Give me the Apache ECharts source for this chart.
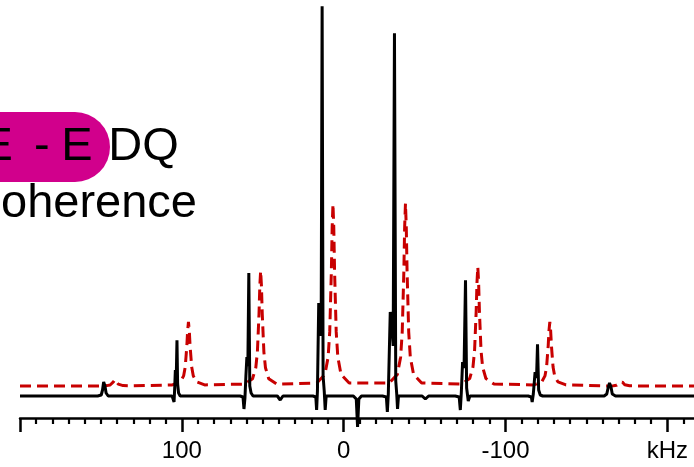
<!DOCTYPE html>
<html>
<head>
<meta charset="utf-8">
<script src="https://cdn.jsdelivr.net/npm/echarts@6/dist/echarts.min.js"></script>
<style>
  html, body { margin: 0; padding: 0; background: #fff; }
  #chart { width: 694px; height: 467px; }
</style>
</head>
<body>
<div id="chart"></div>
<script>
// Frequency axis (kHz), drawn high-to-low from left to right
const axisMin = -216.5;
const axisMax = 200;
const majorTicks = [200, 100, 0, -100, -200];
const minorTicks = [190, 180, 170, 160, 150, 140, 130, 120, 110,
  90, 80, 70, 60, 50, 40, 30, 20, 10,
  -10, -20, -30, -40, -50, -60, -70, -80, -90,
  -110, -120, -130, -140, -150, -160, -170, -180, -190, -210];
const labelValues = [100, 0, -100, -200];
const labelTexts = ['100', '0', '-100', 'kHz'];

// Measured spectrum (solid black): [frequency kHz, intensity]
const measuredTrace = [
  [200, 0],
  [152, 0], [149.8, 1], [149, 6], [148.3, 14], [147.5, 10], [146.8, 3], [145.5, 0],
  [106, 0], [105.2, -1], [104.8, -6], [104.4, 8], [104.0, 26], [103.4, 22], [103.0, 55.7], [102.6, 12], [102.0, 3], [101, 0],
  [64, 0], [62.2, -1], [61.6, -13], [61.0, -2], [60.4, 20], [59.8, 39], [59.2, 30], [58.6, 123], [58.0, 10], [57.2, 3], [56, 0],
  [41, 0], [39.2, -4], [37.5, 0],
  [19, 0], [17.2, -1], [16.7, -14], [16.2, 5], [15.4, 93], [14.6, 80], [13.9, 60], [13.3, 389.7], [12.7, 20], [12.0, 5], [11.4, -14], [10.8, 0], [9, 0],
  [-6, 0], [-7.8, -3], [-8.6, -31], [-9.4, -3], [-11, 0],
  [-24, 0], [-26.4, -1], [-27.0, -16], [-27.6, 2], [-28.8, 84], [-29.8, 70], [-30.6, 50], [-31.4, 362.7], [-32.2, 15], [-32.8, 2], [-33.3, -13], [-33.9, 0], [-36, 0],
  [-48.5, 0], [-50.5, -3], [-52.5, 0],
  [-69, 0], [-71.4, -1], [-72.1, -14], [-72.7, 3], [-73.5, 34], [-74.4, 28], [-75.3, 115.7], [-76.0, 8], [-77, -5], [-78, 0], [-80, 0],
  [-114, 0], [-116.0, -1], [-116.5, -6], [-117.2, 2], [-118.3, 24], [-119.2, 18], [-119.8, 51.7], [-120.5, 6], [-121.5, 1], [-123, 0],
  [-161, 0], [-162.6, 2], [-163.4, 8], [-164.3, 13], [-165.2, 9], [-166, 2], [-168, 0],
  [-216.5, 0]
];

// Simulated spectrum (dashed red), offset above the measured one: [frequency kHz, intensity]
const simulatedTrace = [
  [200, 10],
  [151.3, 10.1], [146.3, 10.4], [144.3, 11], [143.3, 11.9], [142.3, 14.1], [141.8, 15.7], [141.3, 16.5], [140.8, 15.7], [140.3, 14.1], [139.3, 11.9], [138.3, 11], [136.3, 10.4], [131.3, 10.1],
  [105.9, 11.1], [100.9, 14.1], [98.9, 20.1], [97.9, 29], [96.9, 50.2], [96.4, 65.7], [95.9, 74], [95.4, 65.7], [94.9, 50.2], [93.9, 29], [92.9, 20.1], [90.9, 14.1], [85.9, 11.1],
  [61.3, 11.9], [56.3, 17.3], [54.3, 28.2], [53.3, 44.2], [52.3, 82.2], [51.8, 110.2], [51.3, 125], [50.8, 110.2], [50.3, 82.2], [49.3, 44.2], [48.3, 28.2], [46.3, 17.3], [41.3, 11.9],
  [16.6, 13], [11.6, 21.5], [9.6, 38.8], [8.6, 64.1], [7.6, 124.3], [7.1, 168.5], [6.6, 192], [6.1, 168.5], [5.6, 124.3], [4.6, 64.1], [3.6, 38.8], [1.6, 21.5], [-3.4, 13],
  [-28.2, 13], [-33.2, 21.6], [-35.2, 38.8], [-36.2, 64.2], [-37.2, 124.6], [-37.7, 169], [-38.2, 192.5], [-38.7, 169], [-39.2, 124.6], [-40.2, 64.2], [-41.2, 38.8], [-43.2, 21.6], [-48.2, 13],
  [-72.9, 12], [-77.9, 17.5], [-79.9, 28.8], [-80.9, 45.3], [-81.9, 84.7], [-82.4, 113.6], [-82.9, 129], [-83.4, 113.6], [-83.9, 84.7], [-84.9, 45.3], [-85.9, 28.8], [-87.9, 17.5], [-92.9, 12],
  [-117.4, 11.1], [-122.4, 14.1], [-124.4, 20.1], [-125.4, 29], [-126.4, 50.2], [-126.9, 65.7], [-127.4, 74], [-127.9, 65.7], [-128.4, 50.2], [-129.4, 29], [-130.4, 20.1], [-132.4, 14.1], [-137.4, 11.1],
  [-161.7, 10.1], [-166.7, 10.3], [-168.7, 10.7], [-169.7, 11.3], [-170.7, 12.8], [-171.2, 13.9], [-171.7, 14.5], [-172.2, 13.9], [-172.7, 12.8], [-173.7, 11.3], [-174.7, 10.7], [-176.7, 10.3], [-181.7, 10.1],
  [-216.5, 10]
];

const FONT = '"Liberation Sans", Arial, Helvetica, sans-serif';

const chart = echarts.init(document.getElementById('chart'), null, { renderer: 'canvas' });

const baseXAxis = {
  type: 'value',
  inverse: true,
  min: axisMin,
  max: axisMax,
  position: 'bottom',
  splitLine: { show: false }
};

chart.setOption({
  animation: false,
  backgroundColor: '#ffffff',
  grid: { left: 20, right: 0, top: 0, bottom: 49, containLabel: false },
  xAxis: [
    Object.assign({}, baseXAxis, {
      axisLine: { show: true, onZero: false, lineStyle: { color: '#000', width: 2.5 } },
      axisTick: { show: true, inside: false, length: 14, customValues: majorTicks, lineStyle: { color: '#000', width: 2.5 } },
      axisLabel: {
        show: true,
        customValues: labelValues,
        margin: 21,
        color: '#000',
        fontSize: 24,
        fontFamily: FONT,
        formatter: function (v) {
          const i = labelValues.indexOf(v);
          return i >= 0 ? labelTexts[i] : '';
        }
      }
    }),
    Object.assign({}, baseXAxis, {
      axisLine: { show: false, onZero: false },
      axisTick: { show: true, inside: false, length: 6, customValues: minorTicks, lineStyle: { color: '#000', width: 2.2 } },
      axisLabel: { show: false }
    })
  ],
  yAxis: { type: 'value', min: -22, max: 396, show: false },
  series: [
    {
      name: 'simulated',
      type: 'line',
      xAxisIndex: 0,
      data: simulatedTrace,
      showSymbol: false,
      clip: false,
      lineStyle: { color: '#C80000', width: 3, type: [11, 6] },
      z: 2
    },
    {
      name: 'measured',
      type: 'line',
      xAxisIndex: 0,
      data: measuredTrace,
      showSymbol: false,
      clip: false,
      lineStyle: { color: '#000000', width: 3 },
      z: 3
    }
  ],
  graphic: [
    {
      type: 'rect',
      shape: { x: -40, y: 112, width: 150, height: 70, r: 35 },
      style: { fill: '#D1008C' },
      z: 10
    },
    {
      type: 'text',
      style: { x: 12.9, y: 147, text: 'E', font: '47px ' + FONT, fill: '#000', textAlign: 'right', textVerticalAlign: 'middle' },
      z: 11
    },
    {
      type: 'text',
      style: { x: 34, y: 147, text: '-', font: '47px ' + FONT, fill: '#000', textAlign: 'left', textVerticalAlign: 'middle' },
      z: 11
    },
    {
      type: 'text',
      style: { x: 61.3, y: 147, text: 'E', font: '47px ' + FONT, fill: '#000', textAlign: 'left', textVerticalAlign: 'middle' },
      z: 11
    },
    {
      type: 'text',
      style: { x: 108.3, y: 147, text: 'DQ', font: '47px ' + FONT, fill: '#000', textAlign: 'left', textVerticalAlign: 'middle' },
      z: 11
    },
    {
      type: 'text',
      style: { x: 197, y: 204, text: 'coherence', font: '47px ' + FONT, fill: '#000', textAlign: 'right', textVerticalAlign: 'middle' },
      z: 11
    }
  ]
});
</script>
</body>
</html>
